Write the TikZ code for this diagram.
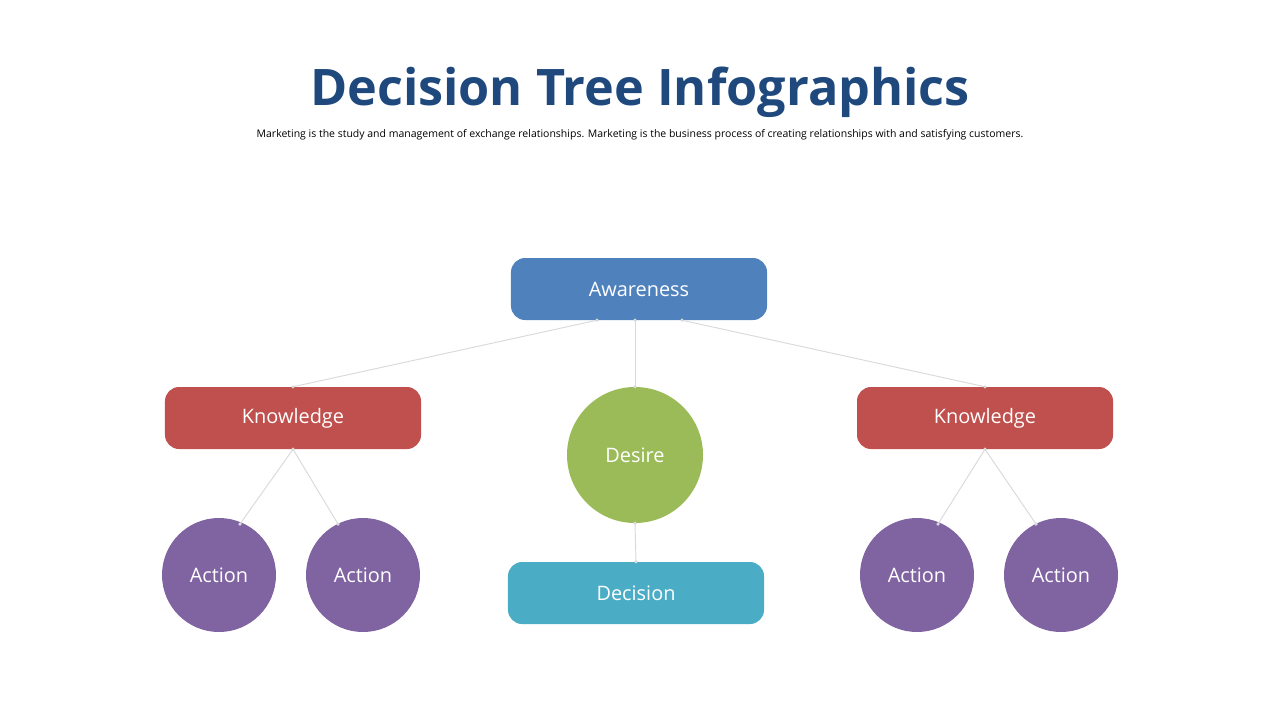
\documentclass[tikz,border=0pt]{standalone}
\usepackage{fontspec}
\setmainfont{Open Sans}
\usetikzlibrary{calc}
\definecolor{titleblue}{RGB}{31,73,125}
\definecolor{awblue}{RGB}{79,129,189}
\definecolor{knred}{RGB}{192,80,77}
\definecolor{degreen}{RGB}{155,187,89}
\definecolor{dcteal}{RGB}{75,172,198}
\definecolor{acpurple}{RGB}{128,100,162}
\definecolor{linegray}{RGB}{217,217,217}

\begin{document}
\begin{tikzpicture}[x=0.03cm,y=-0.03cm]

\tikzset{
  box/.style={rectangle,rounded corners=12pt,minimum width=7.68cm,minimum height=1.86cm,
    text=white,font=\fontsize{17}{20}\selectfont,inner sep=0pt},
  ball/.style={circle,minimum size=#1,text=white,font=\fontsize{17}{20}\selectfont,inner sep=0pt},
  link/.style={draw=linegray,line width=0.8pt},
  tip/.style={fill=linegray,circle,inner sep=0pt,minimum size=3pt}
}

\useasboundingbox (0,0) rectangle (1280,720);

\node [font=\bfseries\fontsize{43}{48}\selectfont,text=titleblue] (title) at (640,92) {Decision Tree Infographics};
\node [font=\fontsize{8.95}{10}\selectfont] (sub) at (640,135) {Marketing is the study and management of exchange relationships. Marketing is the business process of creating relationships with and satisfying customers.};

\node [box,fill=awblue] (aw) at (639,289) {\raisebox{-2pt}{Awareness}};
\node [box,fill=knred] (k1) at (293,418) {\raisebox{-2pt}{Knowledge}};
\node [box,fill=knred] (k2) at (985,418) {\raisebox{-2pt}{Knowledge}};
\node [ball=4.08cm,fill=degreen] (de) at (635,455) {Desire};
\node [box,fill=dcteal] (dc) at (636,593) {\raisebox{-2pt}{Decision}};

\node [ball=3.42cm,fill=acpurple] (a1) at (219,575) {\raisebox{-2pt}{Action}};
\node [ball=3.42cm,fill=acpurple] (a2) at (363,575) {\raisebox{-2pt}{Action}};
\node [ball=3.42cm,fill=acpurple] (a3) at (917,575) {\raisebox{-2pt}{Action}};
\node [ball=3.42cm,fill=acpurple] (a4) at (1061,575) {\raisebox{-2pt}{Action}};

% connector ends
\coordinate (awl) at ($(aw.south)+(-42,0)$);
\coordinate (awm) at ($(aw.south)+(-4,0)$);
\coordinate (awr) at ($(aw.south)+(43,0)$);
\coordinate (a1t) at (240,524);
\coordinate (a2t) at (338,524);
\coordinate (a3t) at (938,524);
\coordinate (a4t) at (1036,524);

\draw [link] (awl) -- (k1.north);
\draw [link] (awm) -- (de.north);
\draw [link] (awr) -- (k2.north);
\draw [link] (k1.south) -- (a1t);
\draw [link] (k1.south) -- (a2t);
\draw [link] (k2.south) -- (a3t);
\draw [link] (k2.south) -- (a4t);
\draw [link] (de.south) -- (dc.north);

\foreach \p in {awl,awm,awr,k1.north,k2.north,de.north,k1.south,k2.south,a1t,a2t,a3t,a4t,de.south,dc.north}
  \node [tip] at (\p) {};

\end{tikzpicture}
\end{document}
